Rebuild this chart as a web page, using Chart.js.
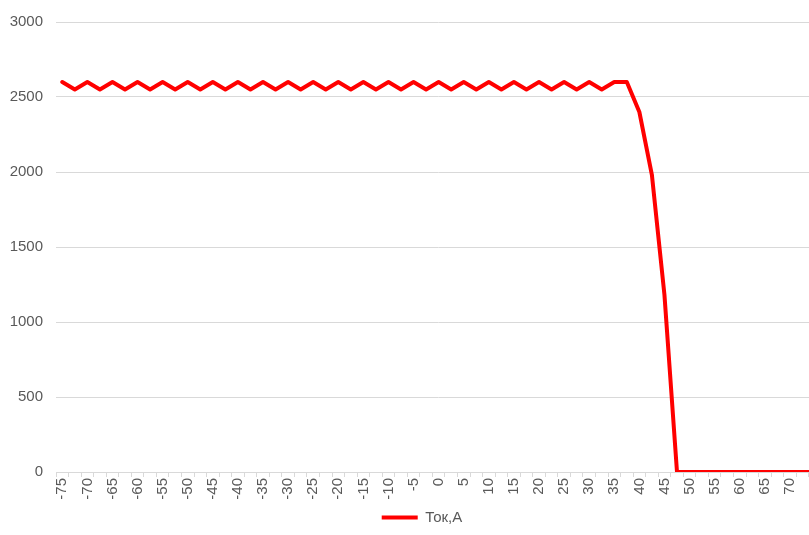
<!DOCTYPE html>
<html><head><meta charset="utf-8">
<script src="https://cdn.jsdelivr.net/npm/chart.js@4/dist/chart.umd.min.js"></script>
<style>
html,body{margin:0;padding:0;background:#fff;overflow:hidden;width:809px;height:535px}
#clip{position:relative;width:809px;height:535px;overflow:hidden}
canvas{display:block;position:absolute;left:0;top:0}
</style></head>
<body><div id="clip"><canvas id="c" width="834" height="535" style="width:834px;height:535px"></canvas></div>
<script>
const categories = [-75,-72.5,-70,-67.5,-65,-62.5,-60,-57.5,-55,-52.5,-50,-47.5,-45,-42.5,-40,-37.5,-35,-32.5,-30,-27.5,-25,-22.5,-20,-17.5,-15,-12.5,-10,-7.5,-5,-2.5,0,2.5,5,7.5,10,12.5,15,17.5,20,22.5,25,27.5,30,32.5,35,37.5,40,42.5,45,47.5,50,52.5,55,57.5,60,62.5,65,67.5,70,72.5,75];
const current = [2600,2550,2600,2550,2600,2550,2600,2550,2600,2550,2600,2550,2600,2550,2600,2550,2600,2550,2600,2550,2600,2550,2600,2550,2600,2550,2600,2550,2600,2550,2600,2550,2600,2550,2600,2550,2600,2550,2600,2550,2600,2550,2600,2550,2600,2600,2400,1980,1180,0,0,0,0,0,0,0,0,0,0,0,0];
const seriesName = 'Ток,А';
const yMin = 0, yMax = 3000, yStep = 500;

const textColor = '#595959';
const gridColor = '#d9d9d9';
const font = {family: "'Liberation Sans', Arial, sans-serif", size: 15};

const legendShift = {
  id: 'legendShift',
  afterLayout(chart) {
    if (chart.legend) { chart.legend.left += 5; chart.legend.right += 5; }
  }
};

new Chart(document.getElementById('c'), {
  type: 'line',
  data: {
    labels: categories,
    datasets: [{
      label: seriesName,
      data: current,
      borderColor: '#ff0000',
      backgroundColor: '#ff0000',
      borderWidth: 4,
      pointRadius: 0,
      tension: 0,
      borderJoinStyle: 'round',
      borderCapStyle: 'round',
      fill: false
    }]
  },
  options: {
    responsive: false,
    maintainAspectRatio: false,
    devicePixelRatio: 1,
    animation: false,
    layout: {padding: {top: 10, left: 0, right: 0, bottom: 0}},
    plugins: {
      legend: {
        position: 'bottom',
        labels: {
          color: textColor,
          font: font,
          usePointStyle: true,
          pointStyle: 'line',
          pointStyleWidth: 36,
          padding: 9
        }
      },
      tooltip: {enabled: false}
    },
    scales: {
      x: {
        type: 'category',
        offset: true,
        grid: {display: true, offset: true, drawOnChartArea: false, drawTicks: true, tickLength: 5, color: gridColor},
        border: {display: true, color: gridColor},
        ticks: {
          autoSkip: false,
          minRotation: 90,
          maxRotation: 90,
          padding: 1,
          color: textColor,
          font: font,
          callback: function(v) {
            const l = Number(this.getLabelForValue(v));
            return (l % 5 === 0) ? String(l) : '';
          }
        },
        afterFit: s => { s.height = 29; }
      },
      y: {
        min: yMin, max: yMax,
        grid: {color: gridColor, drawTicks: false},
        border: {display: false},
        ticks: {stepSize: yStep, padding: 13, color: textColor, font: font, callback: v => String(v)},
        afterFit: s => { s.width = 56; }
      }
    }
  },
  plugins: [legendShift]
});
</script>
</body></html>
